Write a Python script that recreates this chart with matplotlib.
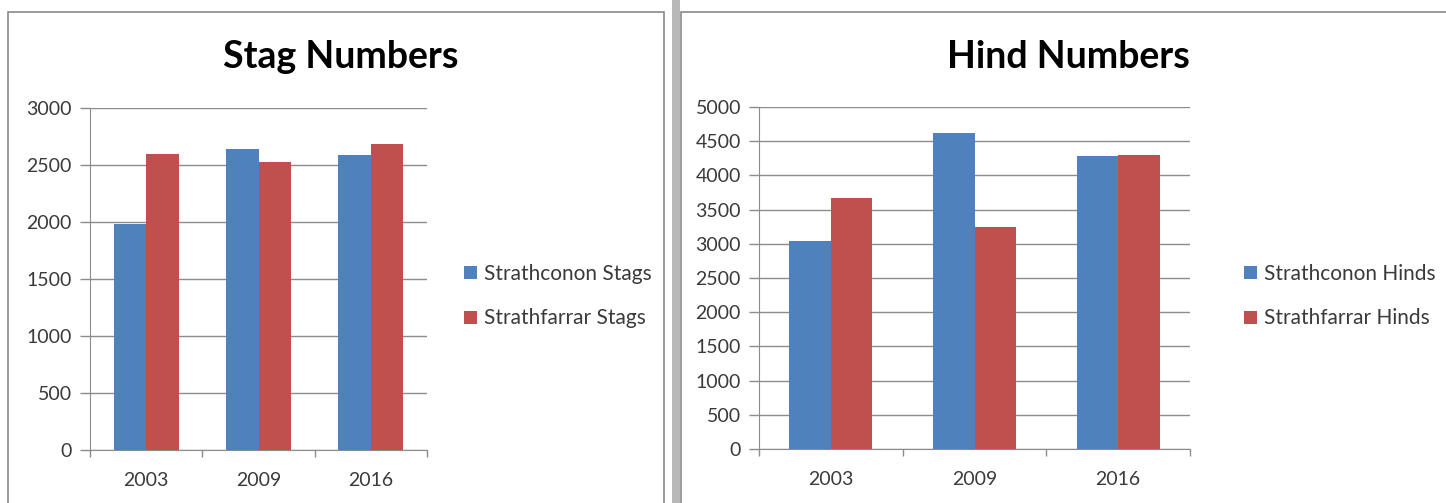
import matplotlib
matplotlib.use("Agg")
import matplotlib.pyplot as plt
from matplotlib.patches import Rectangle
import numpy as np

years = ["2003", "2009", "2016"]
stag_strathconon = [1980, 2640, 2585]
stag_strathfarrar = [2600, 2530, 2680]
hind_strathconon = [3040, 4620, 4280]
hind_strathfarrar = [3670, 3250, 4300]

blue = "#4F81BD"
red = "#C0504D"
grid_c = "#8C8C8C"
text_c = "#3A3A3A"

plt.rcParams['font.family'] = ['Lato', 'DejaVu Sans']

W, H = 1446, 503
fig = plt.figure(figsize=(W / 100, H / 100), dpi=100)
fig.patch.set_facecolor("white")

def fx(px):
    return px / W

def fy(py):
    return 1 - py / H

# panel borders
fig.patches.append(Rectangle((fx(8), fy(505)), fx(664) - fx(8), fy(12) - fy(505),
                             transform=fig.transFigure, fill=False,
                             edgecolor="#8A8A8A", linewidth=1.2))
fig.patches.append(Rectangle((fx(672), 0), fx(680) - fx(672), 1,
                             transform=fig.transFigure, facecolor="#B8B8B8",
                             edgecolor="none"))
fig.patches.append(Rectangle((fx(681), fy(505)), fx(1450) - fx(681), fy(12) - fy(505),
                             transform=fig.transFigure, fill=False,
                             edgecolor="#8A8A8A", linewidth=1.2))


def make_chart(rect, s1, s2, labels, ymax, step, title, title_x, legend_x):
    ax = fig.add_axes(rect)
    x = np.arange(len(years))
    w = 0.29
    ax.bar(x - w / 2, s1, w, color=blue, label=labels[0], zorder=3)
    ax.bar(x + w / 2, s2, w, color=red, label=labels[1], zorder=3)
    ax.set_xlim(-0.5, len(years) - 0.5)
    ax.set_ylim(0, ymax)
    ax.set_yticks(np.arange(0, ymax + 1, step))
    ax.set_yticklabels([str(v) for v in np.arange(0, ymax + 1, step)], fontsize=14, color=text_c)
    ax.yaxis.grid(True, color=grid_c, linewidth=1.0, zorder=0)
    ax.set_axisbelow(True)
    ax.set_xticks(x)
    ax.set_xticklabels(years, fontsize=14, color=text_c)
    ax.tick_params(axis='x', length=0, pad=16)
    ax.tick_params(axis='y', length=7, color=grid_c, width=1.0, pad=6)
    # category boundary ticks
    ax.set_xticks(np.arange(-0.5, len(years)), minor=True)
    ax.tick_params(axis='x', which='minor', length=5, color=grid_c, width=1.0)
    for sp in ["top", "right"]:
        ax.spines[sp].set_visible(False)
    ax.spines["left"].set_color(grid_c)
    ax.spines["bottom"].set_color(grid_c)
    fig.text(title_x, fy(57), title, fontsize=27, fontweight='bold',
             ha='center', va='center', color="black")
    ax.legend(loc='center left', bbox_to_anchor=(legend_x, fy(296)),
              bbox_transform=fig.transFigure, frameon=False, fontsize=15,
              handlelength=0.6, handleheight=0.6, handletextpad=0.35,
              labelspacing=1.2, borderpad=0, borderaxespad=0,
              labelcolor=text_c)
    return ax

make_chart([fx(90), fy(450), fx(427) - fx(90), fy(108) - fy(450)],
           stag_strathconon, stag_strathfarrar,
           ["Strathconon Stags", "Strathfarrar Stags"], 3000, 500,
           "Stag Numbers", fx(341), fx(464))
make_chart([fx(759), fy(449), fx(1190) - fx(759), fy(107) - fy(449)],
           hind_strathconon, hind_strathfarrar,
           ["Strathconon Hinds", "Strathfarrar Hinds"], 5000, 500,
           "Hind Numbers", fx(1068), fx(1244))

fig.savefig("out.png", dpi=100)
